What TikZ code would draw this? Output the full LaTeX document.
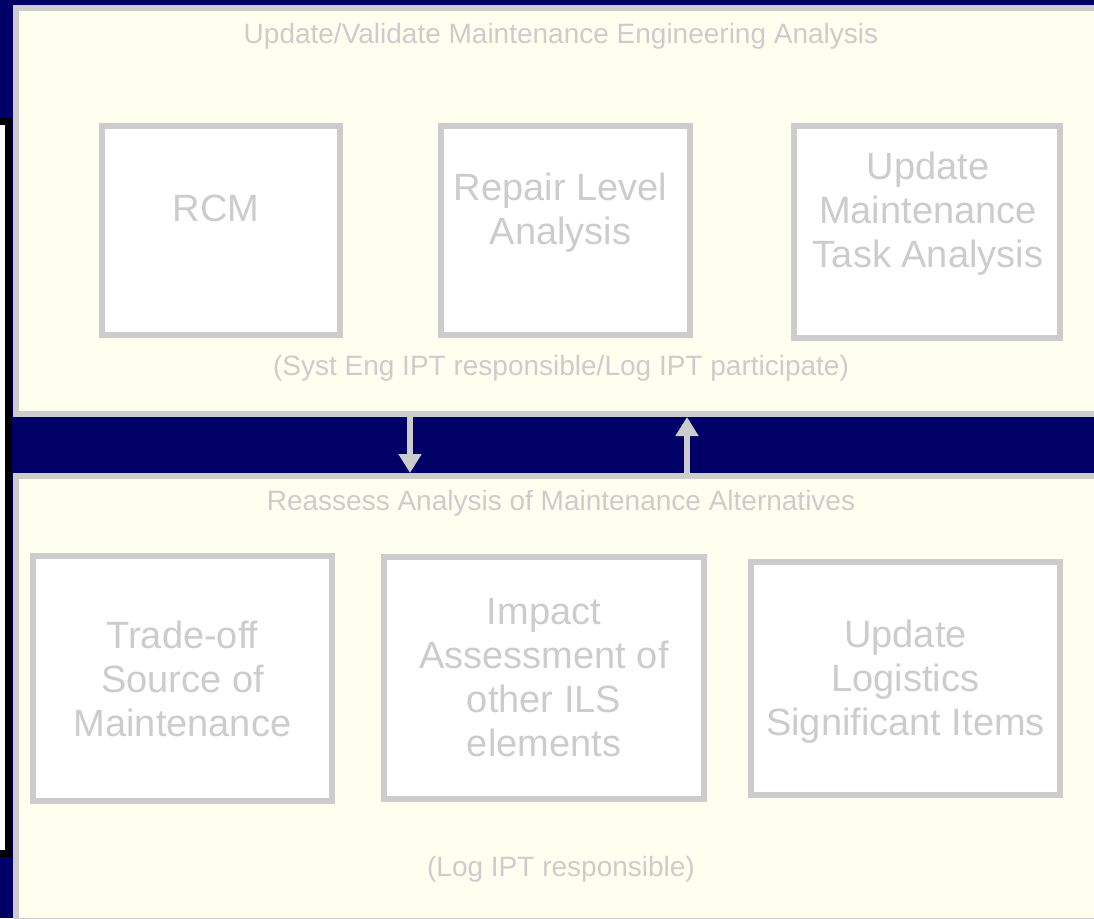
\documentclass[tikz,border=0pt]{standalone}
\usepackage{fontspec}
\setmainfont{Liberation Sans}
\usetikzlibrary{arrows.meta, positioning}
\definecolor{navy}{RGB}{0,0,102}
\definecolor{ivory}{RGB}{255,255,240}
\definecolor{pale}{RGB}{204,204,204}
\tikzset{
panel/.style={draw=pale, line width=6pt, fill=ivory, inner sep=0pt}, % the two large work areas
task/.style={draw=pale, line width=6pt, fill=white, inner sep=0pt}, % one activity box
tasktext/.style={text=pale, align=center, font=\fontsize{38}{44}\selectfont}, % text inside the boxes
note/.style={text=pale, font=\fontsize{28}{32}\selectfont}, % headings and responsibility notes
flow/.style={draw=pale, line width=6pt, -{Triangle[width=22pt, length=19pt]}}, % link between the areas
}

\begin{document}
\begin{tikzpicture}[x=1pt, y=-1pt]
    \useasboundingbox (0,0) rectangle (1094,918);
    \clip (0,0) rectangle (1094,918);
    \fill[navy] (0,0) rectangle (1094,918);
    \draw[black, line width=7pt, fill=white] (-10,121) rectangle (8.5,853);

    % the two areas
    \node[panel, minimum width=1094pt, minimum height=406pt] (upper) at (563,211) {};
    \node[panel, minimum width=1094pt, minimum height=445pt] (lower) at (563,698.5) {};

    \node[note] (upper title) at (561,36) {Update/Validate Maintenance Engineering Analysis};
    \node[note] (upper who) at (561,368) {(Syst Eng IPT responsible/Log IPT participate)};
    \node[note] (lower title) at (561,503) {Reassess Analysis of Maintenance Alternatives};
    \node[note] (lower who) at (561,869) {(Log IPT responsible)};

    % engineering analysis boxes
    \node[task, minimum width=238pt, minimum height=209pt] (rcm) at (221,230.5) {};
    \node[task, minimum width=249pt, minimum height=209pt] (rla) at (565.5,230.5) {};
    \node[task, minimum width=266pt, minimum height=212pt] (mta) at (927,232) {};
    \node[tasktext] (rcm text) at ([shift={(-5,-22)}]rcm.center) {RCM};
    \node[tasktext] (rla text) at ([shift={(-5,-18)}]rla.center) {Repair Level\\Analysis};
    \node[tasktext] (mta text) at ([shift={(1,-18)}]mta.center) {Update\\Maintenance\\Task Analysis};

    % maintenance alternatives boxes
    \node[task, tasktext, minimum width=299pt, minimum height=245pt] (tso) at (182.5,678.5) {Trade-off\\Source of\\Maintenance};
    \node[task, tasktext, minimum width=320pt, minimum height=242pt] (ils) at (544,678) {Impact\\Assessment of\\other ILS\\elements};
    \node[task, minimum width=309pt, minimum height=233pt] (lsi) at (905.5,678.5) {};
    \node[tasktext] (lsi text) at ([yshift=-3pt]lsi.center) {Update\\Logistics\\Significant Items};

    % links between the areas
    \coordinate (down) at (410,445);
    \coordinate (up) at (687,445);
    \draw[flow] (upper.south -| down) -- (lower.north -| down);
    \draw[flow] (lower.north -| up) -- (upper.south -| up);
\end{tikzpicture}
\end{document}
